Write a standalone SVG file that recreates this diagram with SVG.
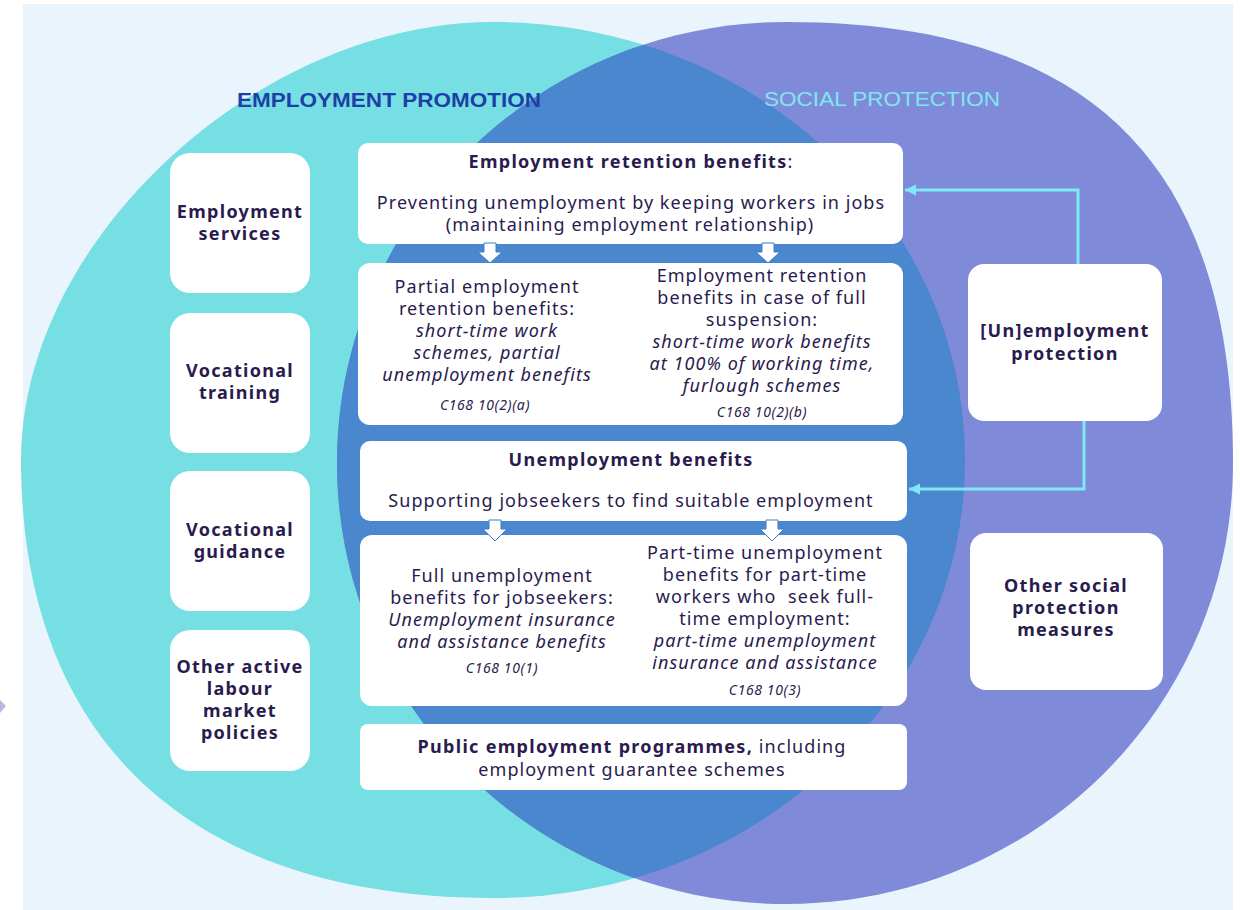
<svg xmlns="http://www.w3.org/2000/svg" width="1240" height="910" viewBox="0 0 1240 910">
<style>
.t{font-family:"Noto Sans","Open Sans",sans-serif;font-size:18px;fill:#2A1B4E;text-anchor:middle;letter-spacing:1.05px}
.b{font-weight:bold;letter-spacing:1.3px}
.i{font-style:italic}
.s{font-size:14px;font-style:italic;letter-spacing:0.6px}
.lb{font-family:"Noto Sans","Open Sans",sans-serif;font-size:18px;font-weight:bold;fill:#2A1B4E;text-anchor:middle;letter-spacing:1.3px}
.box{fill:#FFFFFF}
.conn{fill:none;stroke:#80E8F4;stroke-width:3}
.harrow{fill:#FFFFFF;stroke:#3E7DC8;stroke-width:1}
</style>
<defs>
<path id="cyanShape" d="M965,460 C965,701.9 753.7,898 493,898 C190.9,898 21,740.3 21,460 C21,241 257,22 493,22 C753.7,22 965,218.1 965,460 Z"/>
<clipPath id="cyanClip"><use href="#cyanShape"/></clipPath>
<path id="purpleShape" d="M786,22 C1090,22 1233,163 1233,463 C1233,706.6 1034,904 786,904 C538,904 337,706.6 337,463 C337,219.4 538,22 786,22 Z"/>
<marker id="ah" markerWidth="12" markerHeight="12" refX="11" refY="6" orient="auto" markerUnits="userSpaceOnUse">
<path d="M11,6 L0,0.5 L0,11.5 Z" fill="#80E8F4"/>
</marker>
</defs>
<rect x="0" y="0" width="1240" height="910" fill="#FFFFFF"/>
<rect x="23" y="4" width="1210" height="906" fill="#EAF4FC"/>
<polygon points="0,700 6,706 0,713" fill="#B8B8E6"/>
<g id="venn">
<use href="#cyanShape" fill="#76DFE3"/>
<use href="#purpleShape" fill="#7F8BD8"/>
<use href="#purpleShape" fill="#4A87CF" clip-path="url(#cyanClip)"/>
</g>
<g id="titles">
<text x="389" y="107" font-family="'Liberation Sans',Arial,sans-serif" font-size="20" font-weight="bold" fill="#1F3FA6" text-anchor="middle" textLength="304" lengthAdjust="spacingAndGlyphs">EMPLOYMENT  PROMOTION</text>
<text x="882" y="106" font-family="'Liberation Sans',Arial,sans-serif" font-size="20" fill="#80E6F0" text-anchor="middle" textLength="236" lengthAdjust="spacingAndGlyphs">SOCIAL  PROTECTION</text>
</g>
<g id="employment-services">
<rect class="box" x="170" y="153" width="140" height="140" rx="20"/>
<text class="lb" x="240" y="218">Employment</text>
<text class="lb" x="240" y="240">services</text>
</g>
<g id="vocational-training">
<rect class="box" x="170" y="313" width="140" height="140" rx="20"/>
<text class="lb" x="240" y="377">Vocational</text>
<text class="lb" x="240" y="399">training</text>
</g>
<g id="vocational-guidance">
<rect class="box" x="170" y="471" width="140" height="140" rx="20"/>
<text class="lb" x="240" y="536">Vocational</text>
<text class="lb" x="240" y="558">guidance</text>
</g>
<g id="other-almp">
<rect class="box" x="170" y="630" width="140" height="141" rx="20"/>
<text class="lb" x="240" y="673">Other active</text>
<text class="lb" x="240" y="695">labour</text>
<text class="lb" x="240" y="717">market</text>
<text class="lb" x="240" y="739">policies</text>
</g>
<g id="retention-benefits">
<rect class="box" x="358" y="143" width="545" height="101" rx="10"/>
<text class="t" x="631" y="168"><tspan class="b">Employment retention benefits</tspan>:</text>
<text class="t" x="631" y="209">Preventing unemployment by keeping workers in jobs</text>
<text class="t" x="630" y="231">(maintaining employment relationship)</text>
</g>
<g id="retention-types">
<rect class="box" x="358" y="263" width="545" height="162" rx="12"/>
<text class="t" x="487" y="293">Partial employment</text>
<text class="t" x="487" y="315">retention benefits:</text>
<text class="t i" x="487" y="337">short-time work</text>
<text class="t i" x="487" y="359">schemes, partial</text>
<text class="t i" x="487" y="381">unemployment benefits</text>
<text class="t s" x="485" y="410">C168 10(2)(a)</text>
<text class="t" x="762" y="282">Employment retention</text>
<text class="t" x="762" y="304">benefits in case of full</text>
<text class="t" x="762" y="326">suspension:</text>
<text class="t i" x="762" y="348">short-time work benefits</text>
<text class="t i" x="762" y="370">at 100% of working time,</text>
<text class="t i" x="762" y="392">furlough schemes</text>
<text class="t s" x="762" y="417">C168 10(2)(b)</text>
</g>
<g id="unemployment-benefits">
<rect class="box" x="360" y="441" width="547" height="80" rx="10"/>
<text class="t b" x="631" y="466">Unemployment benefits</text>
<text class="t" x="631" y="507">Supporting jobseekers to find suitable employment</text>
</g>
<g id="unemployment-types">
<rect class="box" x="360" y="535" width="547" height="171" rx="12"/>
<text class="t" x="502" y="582">Full unemployment</text>
<text class="t" x="502" y="604">benefits for jobseekers:</text>
<text class="t i" x="502" y="626">Unemployment insurance</text>
<text class="t i" x="502" y="648">and assistance benefits</text>
<text class="t s" x="502" y="673">C168 10(1)</text>
<text class="t" x="765" y="559">Part-time unemployment</text>
<text class="t" x="765" y="581">benefits for part-time</text>
<text class="t" x="765" y="603" xml:space="preserve">workers who  seek full-</text>
<text class="t" x="765" y="625">time employment:</text>
<text class="t i" x="765" y="647">part-time unemployment</text>
<text class="t i" x="765" y="669">insurance and assistance</text>
<text class="t s" x="765" y="695">C168 10(3)</text>
</g>
<g id="public-employment">
<rect class="box" x="360" y="724" width="547" height="66" rx="8"/>
<text class="t" x="632" y="753"><tspan class="b">Public employment programmes,</tspan> including</text>
<text class="t" x="632" y="776">employment guarantee schemes</text>
</g>
<g id="unemployment-protection">
<rect class="box" x="968" y="264" width="194" height="157" rx="16"/>
<text class="lb" x="1065" y="337">[Un]employment</text>
<text class="lb" x="1065" y="360">protection</text>
</g>
<g id="other-social-protection">
<rect class="box" x="970" y="533" width="193" height="157" rx="16"/>
<text class="lb" x="1066" y="592">Other social</text>
<text class="lb" x="1066" y="614">protection</text>
<text class="lb" x="1066" y="636">measures</text>
</g>
<g id="connectors">
<polygon class="harrow" points="484,243 496,243 496,252 502,252 490,263 478,252 484,252"/>
<polygon class="harrow" points="762,243 774,243 774,252 780,252 768,263 756,252 762,252"/>
<polygon class="harrow" points="489,520 501,520 501,529 507,529 495,541 483,529 489,529"/>
<polygon class="harrow" points="766,520 778,520 778,529 784,529 772,541 760,529 766,529"/>
<path class="conn" d="M1078,264 V190 H905" marker-end="url(#ah)"/>
<path class="conn" d="M1084,421 V489 H909" marker-end="url(#ah)"/>
</g>
</svg>
